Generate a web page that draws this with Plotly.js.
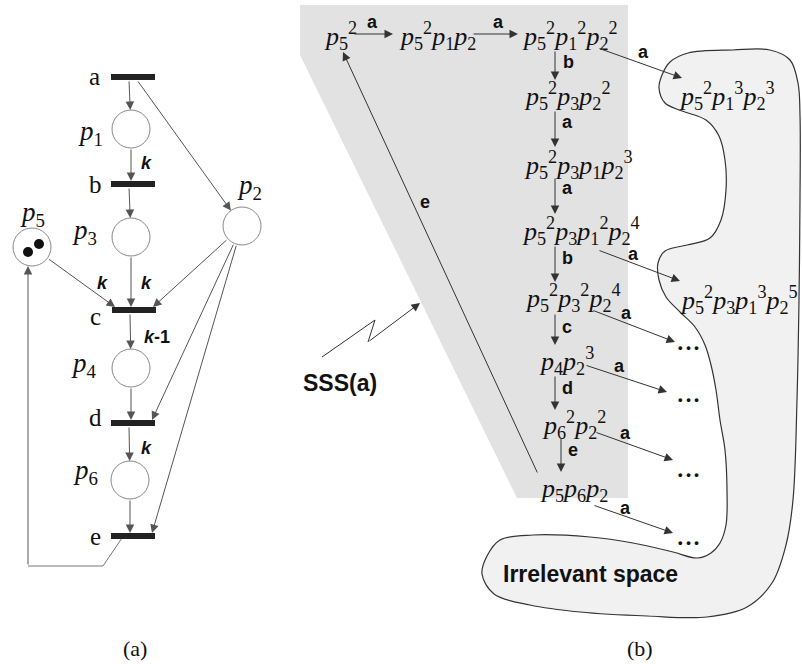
<!DOCTYPE html>
<html><head><meta charset="utf-8">
<script src="https://cdn.plot.ly/plotly-3.0.1.min.js"></script>
<style>html,body{margin:0;padding:0;background:#fff}#chart{width:802px;height:664px}</style>
</head><body><div id="chart"></div>
<script>
// ===== (a) Petri net =====
const placeNames  = ['p1','p2','p3','p4','p5','p6'];
const placeSubs   = ['1','2','3','4','5','6'];
const placeX      = [131, 242, 131, 131, 32, 130];
const placeY      = [129, 226, 237, 368, 247, 480];
const placeTokens = [0, 0, 0, 0, 2, 0];
const placeLabelX = [90, 249, 84, 84, 32, 85];
const placeLabelY = [134, 188, 233, 366, 215, 473];

const transNames  = ['a','b','c','d','e'];
const transX      = [133, 133, 134, 133, 133];
const transY      = [77, 184, 310, 423, 536];
const transLabelX = [94, 95, 95, 95, 95];
const transLabelY = [76, 184, 316, 417, 536];

const arcFrom   = ['a','p1','b','p3','p5','p2','c','p4','d','p6','p2','p2','a'];
const arcTo     = ['p1','b','p3','c','c','c','p4','d','p6','e','d','e','p2'];

const weightText = ['k','k','k','k-1','k'];
const weightX    = [146, 102, 146, 157, 146];
const weightY    = [163, 283, 283, 337, 448];

// route of arc e -> p5
const returnArcX = [122, 103, 28, 28];
const returnArcY = [538, 566, 566, 266];

// ===== (b) reachability graph =====
const stateTerms = [
  [[5,2]],
  [[5,2],[1,1],[2,1]],
  [[5,2],[1,2],[2,2]],
  [[5,2],[3,1],[2,2]],
  [[5,2],[3,1],[1,1],[2,3]],
  [[5,2],[3,1],[1,2],[2,4]],
  [[5,2],[3,2],[2,4]],
  [[4,1],[2,3]],
  [[6,2],[2,2]],
  [[5,1],[6,1],[2,1]],
  [[5,2],[1,3],[2,3]],
  [[5,2],[3,1],[1,3],[2,5]]
];
const stateX = [322, 397, 520, 522, 522, 520, 523, 537, 540, 538, 677, 678];
const stateY = [38, 38, 38, 98, 167, 233, 300, 363, 427, 490, 98, 302];

const ellipsisX = [688, 688, 688, 688];
const ellipsisY = [347, 399, 474, 542];

const edgeLabel = ['a','a','a','b','a','a','a','b','a','c','a','d','a','e','a','e'];
const edgeX0 = [353, 472, 598, 555, 555, 555, 598, 555, 592, 555, 585, 555, 595, 561, 593, 538];
const edgeY0 = [34, 34, 48, 50, 110, 177, 250, 245, 310, 313, 365, 375, 432, 437, 505, 474];
const edgeX1 = [393, 518, 682, 555, 555, 555, 680, 555, 675, 555, 667, 555, 673, 561, 673, 343];
const edgeY1 = [34, 34, 78, 80, 147, 214, 281, 282, 342, 345, 392, 410, 460, 472, 533, 52];
const edgeLabelX = [372, 498, 643, 568, 567, 567, 633, 567, 626, 567, 619, 567, 625, 573, 625, 425];
const edgeLabelY = [22, 22, 52, 62, 122, 188, 254, 258, 313, 327, 366, 388, 433, 450, 508, 202];

const sssRegionX = [300, 628, 628, 517, 300];
const sssRegionY = [5, 5, 498, 498, 55];

const boltX = [322, 375, 368, 420];
const boltY = [357, 320, 342, 303];

const blobX = [662,670,688,733,770,790,798,800,800,799,797,793,786,772,747,707,647,580,530,494,482,487,500,533,590,633,673,697,711,720,726,727,725,720,716,711,705,695,680,666,659,658,665,687,710,721,726,725,719,706,682,665,659,662];
const blobY = [75,62,53,50,50,60,83,115,200,300,400,500,545,583,607,617,616,612,605,594,574,556,540,535,537,543,552,558,553,543,525,490,450,420,390,365,345,327,312,297,280,263,251,245,238,220,190,160,136,120,111,103,88,75];

// ===== build =====
const SERIF = 'Liberation Serif, Times New Roman, serif';
const SANS  = 'Liberation Sans, Arial, sans-serif';
const R = 19;
const traces = [];
const shapes = [];
const ann = [];

// shaded regions
traces.push({x: sssRegionX, y: sssRegionY, mode: 'lines', fill: 'toself', fillcolor: '#e2e2e2',
  line: {width: 0, color: '#e2e2e2'}, hoverinfo: 'skip'});
traces.push({x: blobX, y: blobY, mode: 'lines', fill: 'toself', fillcolor: '#f1f1f1',
  line: {width: 1.2, color: '#333', shape: 'spline', smoothing: 1}, hoverinfo: 'skip'});

function node(name) {
  let i = placeNames.indexOf(name);
  if (i >= 0) return {kind: 'p', x: placeX[i], y: placeY[i]};
  i = transNames.indexOf(name);
  return {kind: 't', x: transX[i], y: transY[i]};
}
function arrow(x0, y0, x1, y1, color, size) {
  ann.push({x: x1, y: y1, ax: x0, ay: y0, xref: 'x', yref: 'y', axref: 'x', ayref: 'y',
    text: '', showarrow: true, arrowhead: 2, arrowsize: size || 1.6, arrowwidth: 1,
    arrowcolor: color || '#333', standoff: 0, startstandoff: 0});
}

// arcs of the net
for (let k = 0; k < arcFrom.length; k++) {
  const a = node(arcFrom[k]), b = node(arcTo[k]);
  let x0, y0, x1, y1;
  if (a.kind === 'p') {
    const dx = b.x - a.x;
    x1 = b.x + (Math.abs(dx) < 1 ? 0 : -Math.sign(dx) * Math.min(19, Math.abs(dx)));
    y1 = b.y - 3;
    const vx = x1 - a.x, vy = y1 - a.y, n = Math.hypot(vx, vy);
    x0 = a.x + vx / n * R; y0 = a.y + vy / n * R;
  } else {
    const dx = b.x - a.x;
    x0 = a.x + (Math.abs(dx) < 2 ? 0 : Math.sign(dx) * 4);
    y0 = a.y + 3;
    const vx = b.x - x0, vy = b.y - y0, n = Math.hypot(vx, vy);
    x1 = b.x - vx / n * R; y1 = b.y - vy / n * R;
  }
  arrow(x0, y0, x1, y1, '#555', 1.7);
}
// routed arc e -> p5
traces.push({x: returnArcX.slice(0, 3), y: returnArcY.slice(0, 3), mode: 'lines',
  line: {width: 1, color: '#777'}, hoverinfo: 'skip'});
arrow(returnArcX[2], returnArcY[2], returnArcX[3], returnArcY[3], '#555', 1.7);

// transitions
for (let i = 0; i < transNames.length; i++) {
  shapes.push({type: 'rect', x0: transX[i] - 22, x1: transX[i] + 22, y0: transY[i] - 3, y1: transY[i] + 3,
    fillcolor: '#222', line: {width: 0}, layer: 'above'});
  ann.push({x: transLabelX[i], y: transLabelY[i], text: transNames[i], showarrow: false,
    xanchor: 'center', yanchor: 'middle', font: {family: SERIF, size: 25, color: '#111'}});
}
// places
traces.push({x: placeX, y: placeY, mode: 'markers', hoverinfo: 'skip',
  marker: {size: 2 * R, color: '#fff', line: {color: '#888', width: 1}}});
// tokens
const tokX = [], tokY = [];
for (let i = 0; i < placeNames.length; i++) {
  if (placeTokens[i] === 2) { tokX.push(placeX[i] - 4, placeX[i] + 7); tokY.push(placeY[i] + 5, placeY[i] - 3); }
}
traces.push({x: tokX, y: tokY, mode: 'markers', hoverinfo: 'skip', marker: {size: 10, color: '#111'}});
for (let i = 0; i < placeNames.length; i++) {
  ann.push({x: placeLabelX[i], y: placeLabelY[i] + 18, text: '<i>p</i><sub>' + placeSubs[i] + '</sub>',
    showarrow: false, xanchor: 'center', yanchor: 'bottom', font: {family: SERIF, size: 27, color: '#111'}});
}
// weights
for (let i = 0; i < weightText.length; i++) {
  const t = weightText[i].replace('k', '<i>k</i>');
  ann.push({x: weightX[i], y: weightY[i], text: '<b>' + t + '</b>', showarrow: false,
    xanchor: 'center', yanchor: 'middle', font: {family: SANS, size: 18, color: '#111'}});
}

// states
function stateHTML(terms) {
  return terms.map(t => '<i>p</i><sub>' + t[0] + '</sub>' + (t[1] > 1 ? '<sup>' + t[1] + '</sup>' : '')).join('');
}
for (let i = 0; i < stateTerms.length; i++) {
  ann.push({x: stateX[i], y: stateY[i] + 18, text: stateHTML(stateTerms[i]), showarrow: false,
    xanchor: 'left', yanchor: 'bottom', font: {family: SERIF, size: 26, color: '#111'}});
}
for (let i = 0; i < ellipsisX.length; i++) {
  ann.push({x: ellipsisX[i], y: ellipsisY[i], text: '<b>• • •</b>', showarrow: false,
    xanchor: 'center', yanchor: 'middle', font: {family: SANS, size: 13, color: '#111'}});
}
for (let i = 0; i < edgeLabel.length; i++) {
  arrow(edgeX0[i], edgeY0[i], edgeX1[i], edgeY1[i], '#333', 1.7);
  ann.push({x: edgeLabelX[i], y: edgeLabelY[i], text: '<b>' + edgeLabel[i] + '</b>', showarrow: false,
    xanchor: 'center', yanchor: 'middle', font: {family: SANS, size: 18, color: '#111'}});
}
// SSS(a) bolt
traces.push({x: boltX.slice(0, 3), y: boltY.slice(0, 3), mode: 'lines', line: {width: 1, color: '#333'}, hoverinfo: 'skip'});
arrow(boltX[2], boltY[2], boltX[3], boltY[3], '#333', 1.7);
ann.push({x: 340, y: 383, text: '<b>SSS(a)</b>', showarrow: false, xanchor: 'center', yanchor: 'middle',
  font: {family: SANS, size: 23, color: '#111'}});
ann.push({x: 590, y: 574, text: '<b>Irrelevant space</b>', showarrow: false, xanchor: 'center', yanchor: 'middle',
  font: {family: SANS, size: 23, color: '#111'}});
ann.push({x: 135, y: 648, text: '(a)', showarrow: false, xanchor: 'center', yanchor: 'middle',
  font: {family: SERIF, size: 22, color: '#111'}});
ann.push({x: 640, y: 648, text: '(b)', showarrow: false, xanchor: 'center', yanchor: 'middle',
  font: {family: SERIF, size: 22, color: '#111'}});

const layout = {
  width: 802, height: 664, margin: {l: 0, r: 0, t: 0, b: 0},
  paper_bgcolor: '#fff', plot_bgcolor: '#fff', showlegend: false,
  xaxis: {range: [0, 802], visible: false, fixedrange: true},
  yaxis: {range: [664, 0], visible: false, fixedrange: true},
  shapes: shapes, annotations: ann
};
Plotly.newPlot('chart', traces, layout, {staticPlot: true, displayModeBar: false});
</script></body></html>
